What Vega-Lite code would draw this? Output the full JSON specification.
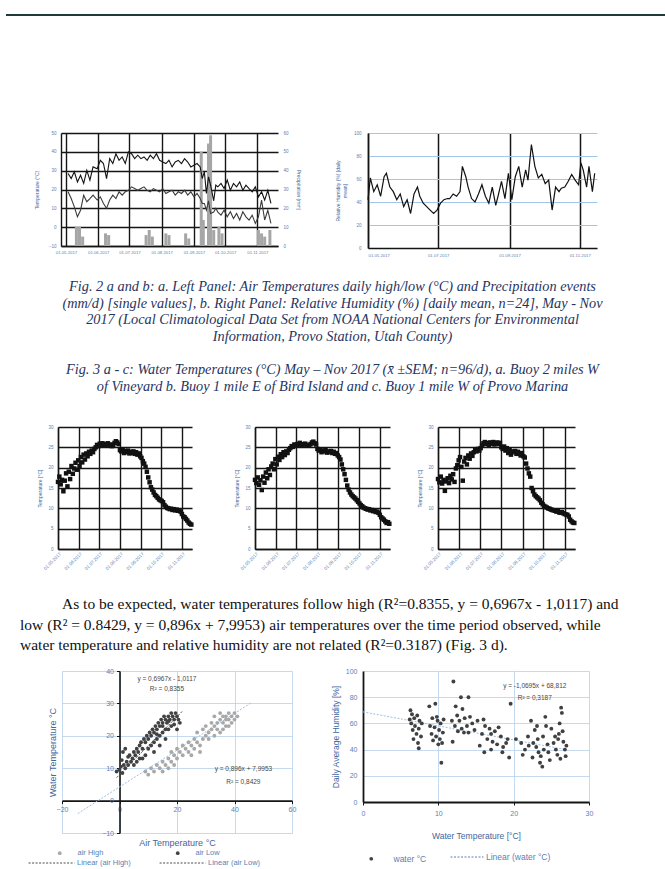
{
"$schema": "https://vega.github.io/schema/vega-lite/v6.json",
"padding": 0,
"background": "#ffffff",
"spacing": 0,
"resolve": {"scale": {"color": "independent", "stroke": "independent", "strokeDash": "independent"}, "legend": {"color": "independent", "stroke": "independent", "strokeDash": "independent"}},
"config": {
  "view": {"stroke": null},
  "font": "Liberation Sans",
  "axis": {"labelFont": "Liberation Sans", "titleFont": "Liberation Sans", "titleFontWeight": "normal", "labelOverlap": false},
  "legend": {"labelFont": "Liberation Sans"}
},
"datasets": {
  "air": [
    {"d":"2017/05/03","high":28.5,"low":18.8},{"d":"2017/05/06","high":25.8,"low":15.2},{"d":"2017/05/09","high":29.4,"low":10.8},
    {"d":"2017/05/12","high":24.0,"low":5.5},{"d":"2017/05/15","high":27.6,"low":9.0},{"d":"2017/05/18","high":23.2,"low":17.0},
    {"d":"2017/05/21","high":30.2,"low":13.5},{"d":"2017/05/24","high":25.0,"low":15.2},{"d":"2017/05/27","high":32.0,"low":17.0},
    {"d":"2017/05/31","high":31.0,"low":14.4},{"d":"2017/06/03","high":35.5,"low":16.1},{"d":"2017/06/06","high":33.8,"low":12.6},
    {"d":"2017/06/09","high":25.8,"low":10.0},{"d":"2017/06/12","high":36.4,"low":14.4},{"d":"2017/06/15","high":33.8,"low":17.0},
    {"d":"2017/06/18","high":39.0,"low":15.2},{"d":"2017/06/21","high":35.5,"low":18.8},{"d":"2017/06/24","high":37.3,"low":17.0},
    {"d":"2017/06/27","high":33.8,"low":18.8},{"d":"2017/06/30","high":40.0,"low":19.6},{"d":"2017/07/03","high":39.0,"low":21.4},
    {"d":"2017/07/06","high":36.4,"low":20.5},{"d":"2017/07/09","high":38.2,"low":19.6},{"d":"2017/07/12","high":36.4,"low":20.5},
    {"d":"2017/07/15","high":37.3,"low":21.4},{"d":"2017/07/18","high":35.5,"low":19.6},{"d":"2017/07/21","high":38.2,"low":18.8},
    {"d":"2017/07/24","high":36.4,"low":20.5},{"d":"2017/07/27","high":39.0,"low":19.6},{"d":"2017/07/30","high":35.5,"low":18.8},
    {"d":"2017/08/02","high":34.6,"low":20.5},{"d":"2017/08/05","high":33.8,"low":17.9},{"d":"2017/08/08","high":35.5,"low":18.8},
    {"d":"2017/08/11","high":32.0,"low":19.6},{"d":"2017/08/14","high":34.6,"low":17.0},{"d":"2017/08/17","high":35.5,"low":18.8},
    {"d":"2017/08/20","high":33.8,"low":17.9},{"d":"2017/08/23","high":36.4,"low":19.6},{"d":"2017/08/26","high":34.6,"low":17.0},
    {"d":"2017/08/29","high":32.0,"low":18.8},{"d":"2017/09/01","high":32.9,"low":16.1},{"d":"2017/09/04","high":33.8,"low":17.9},
    {"d":"2017/09/07","high":32.0,"low":15.2},{"d":"2017/09/09","high":25.8,"low":12.6},{"d":"2017/09/11","high":29.4,"low":12.6},
    {"d":"2017/09/13","high":17.9,"low":9.0},{"d":"2017/09/15","high":26.7,"low":14.0},{"d":"2017/09/17","high":22.3,"low":7.3},
    {"d":"2017/09/20","high":14.0,"low":8.0},{"d":"2017/09/22","high":22.3,"low":10.0},{"d":"2017/09/24","high":21.4,"low":8.0},
    {"d":"2017/09/27","high":23.2,"low":6.4},{"d":"2017/09/30","high":20.5,"low":9.0},{"d":"2017/10/03","high":25.0,"low":5.5},
    {"d":"2017/10/06","high":19.6,"low":8.2},{"d":"2017/10/09","high":23.2,"low":4.6},{"d":"2017/10/12","high":21.4,"low":7.3},
    {"d":"2017/10/15","high":24.0,"low":3.8},{"d":"2017/10/18","high":19.6,"low":8.2},{"d":"2017/10/21","high":22.3,"low":5.5},
    {"d":"2017/10/24","high":20.5,"low":3.8},{"d":"2017/10/27","high":18.8,"low":6.4},{"d":"2017/10/30","high":21.4,"low":2.0},
    {"d":"2017/11/02","high":16.1,"low":5.5},{"d":"2017/11/05","high":18.8,"low":14.4},{"d":"2017/11/08","high":14.4,"low":3.8},
    {"d":"2017/11/11","high":19.6,"low":9.0},{"d":"2017/11/14","high":12.6,"low":2.0}
  ],
  "precip": [
    {"d":"2017/05/11","mm":10.2},{"d":"2017/05/14","mm":10.2},{"d":"2017/05/17","mm":5.0},{"d":"2017/06/08","mm":6.7},
    {"d":"2017/06/11","mm":5.8},{"d":"2017/07/17","mm":5.8},{"d":"2017/07/20","mm":8.5},{"d":"2017/07/23","mm":5.0},
    {"d":"2017/08/05","mm":6.7},{"d":"2017/08/08","mm":5.8},{"d":"2017/08/24","mm":6.7},{"d":"2017/08/27","mm":4.0},
    {"d":"2017/09/08","mm":50.0},{"d":"2017/09/10","mm":13.8},{"d":"2017/09/15","mm":54.4},{"d":"2017/09/17","mm":58.8},
    {"d":"2017/09/20","mm":8.5},{"d":"2017/09/25","mm":10.2},{"d":"2017/09/28","mm":6.7},{"d":"2017/11/02","mm":8.5},
    {"d":"2017/11/05","mm":6.7},{"d":"2017/11/08","mm":5.0},{"d":"2017/11/13","mm":8.5}
  ],
  "rh": [
    {"d":"2017/05/01","rh":42},{"d":"2017/05/03","rh":61},{"d":"2017/05/06","rh":49},{"d":"2017/05/09","rh":55},
    {"d":"2017/05/12","rh":45},{"d":"2017/05/15","rh":62},{"d":"2017/05/17","rh":65},{"d":"2017/05/20","rh":53},
    {"d":"2017/05/23","rh":49},{"d":"2017/05/26","rh":42},{"d":"2017/05/29","rh":47},{"d":"2017/06/01","rh":36},
    {"d":"2017/06/04","rh":42},{"d":"2017/06/07","rh":30},{"d":"2017/06/10","rh":47},{"d":"2017/06/13","rh":53},
    {"d":"2017/06/15","rh":45},{"d":"2017/06/18","rh":39},{"d":"2017/06/21","rh":36},{"d":"2017/06/24","rh":33},
    {"d":"2017/06/27","rh":30},{"d":"2017/06/30","rh":33},{"d":"2017/07/03","rh":39},{"d":"2017/07/06","rh":42},
    {"d":"2017/07/09","rh":43},{"d":"2017/07/11","rh":43},{"d":"2017/07/14","rh":47},{"d":"2017/07/17","rh":45},
    {"d":"2017/07/20","rh":49},{"d":"2017/07/22","rh":71},{"d":"2017/07/25","rh":62},{"d":"2017/07/27","rh":53},
    {"d":"2017/07/30","rh":43},{"d":"2017/08/02","rh":40},{"d":"2017/08/05","rh":47},{"d":"2017/08/08","rh":55},
    {"d":"2017/08/11","rh":45},{"d":"2017/08/14","rh":39},{"d":"2017/08/17","rh":53},{"d":"2017/08/20","rh":37},
    {"d":"2017/08/22","rh":45},{"d":"2017/08/25","rh":58},{"d":"2017/08/28","rh":43},{"d":"2017/08/31","rh":65},
    {"d":"2017/09/03","rh":42},{"d":"2017/09/06","rh":62},{"d":"2017/09/09","rh":71},{"d":"2017/09/12","rh":53},
    {"d":"2017/09/15","rh":68},{"d":"2017/09/17","rh":59},{"d":"2017/09/20","rh":90},{"d":"2017/09/23","rh":71},
    {"d":"2017/09/26","rh":61},{"d":"2017/09/29","rh":64},{"d":"2017/10/02","rh":56},{"d":"2017/10/05","rh":59},
    {"d":"2017/10/08","rh":33},{"d":"2017/10/11","rh":53},{"d":"2017/10/14","rh":49},{"d":"2017/10/16","rh":52},
    {"d":"2017/10/19","rh":53},{"d":"2017/10/22","rh":58},{"d":"2017/10/25","rh":64},{"d":"2017/10/28","rh":59},
    {"d":"2017/10/31","rh":55},{"d":"2017/11/02","rh":74},{"d":"2017/11/04","rh":68},{"d":"2017/11/07","rh":53},
    {"d":"2017/11/09","rh":71},{"d":"2017/11/12","rh":49},{"d":"2017/11/14","rh":65}
  ],
  "water": [
    {"d":"2017/05/01","a":16.5,"b":17.0,"c":17.2},{"d":"2017/05/03","a":17.8,"b":16.2,"c":16.4},{"d":"2017/05/05","a":15.9,"b":17.6,"c":17.8},
    {"d":"2017/05/07","a":17.0,"b":15.8,"c":16.1},{"d":"2017/05/09","a":14.2,"b":16.9,"c":17.0},{"d":"2017/05/11","a":16.8,"b":14.5,"c":14.3},
    {"d":"2017/05/13","a":18.6,"b":17.8,"c":16.6},{"d":"2017/05/15","a":15.4,"b":16.3,"c":17.4},{"d":"2017/05/17","a":19.0,"b":18.8,"c":16.2},
    {"d":"2017/05/19","a":17.2,"b":17.4,"c":18.0},{"d":"2017/05/21","a":20.4,"b":19.6,"c":17.1},{"d":"2017/05/23","a":18.5,"b":18.2,"c":18.4},
    {"d":"2017/05/25","a":19.8,"b":20.3,"c":16.5},{"d":"2017/05/27","a":21.2,"b":21.0,"c":19.8},{"d":"2017/05/29","a":19.5,"b":19.6,"c":20.6},
    {"d":"2017/05/31","a":21.8,"b":22.1,"c":21.8},{"d":"2017/06/02","a":20.4,"b":20.8,"c":22.6},{"d":"2017/06/04","a":22.6,"b":22.7,"c":20.2},
    {"d":"2017/06/06","a":21.3,"b":21.9,"c":16.8},{"d":"2017/06/08","a":23.2,"b":23.3,"c":21.5},{"d":"2017/06/10","a":22.0,"b":22.6,"c":22.4},
    {"d":"2017/06/12","a":23.5,"b":23.8,"c":20.8},{"d":"2017/06/14","a":22.8,"b":23.1,"c":23.0},{"d":"2017/06/16","a":23.9,"b":24.0,"c":22.2},
    {"d":"2017/06/18","a":23.4,"b":23.6,"c":23.5},{"d":"2017/06/20","a":24.2,"b":24.4,"c":22.9},{"d":"2017/06/22","a":23.8,"b":24.8,"c":23.8},
    {"d":"2017/06/24","a":24.6,"b":25.3,"c":24.3},{"d":"2017/06/26","a":25.0,"b":25.1,"c":24.0},{"d":"2017/06/28","a":25.6,"b":25.7,"c":24.6},
    {"d":"2017/06/30","a":25.3,"b":25.5,"c":24.2},{"d":"2017/07/02","a":25.9,"b":25.8,"c":24.8},{"d":"2017/07/04","a":25.6,"b":25.6,"c":25.5},
    {"d":"2017/07/06","a":26.0,"b":26.1,"c":26.0},{"d":"2017/07/08","a":25.7,"b":25.6,"c":26.3},{"d":"2017/07/10","a":25.5,"b":25.4,"c":25.8},
    {"d":"2017/07/12","a":25.8,"b":25.8,"c":26.1},{"d":"2017/07/14","a":26.0,"b":25.9,"c":25.6},{"d":"2017/07/16","a":25.4,"b":25.5,"c":26.2},
    {"d":"2017/07/18","a":25.7,"b":25.6,"c":25.9},{"d":"2017/07/20","a":25.3,"b":25.4,"c":26.3},{"d":"2017/07/22","a":25.6,"b":25.8,"c":25.7},
    {"d":"2017/07/24","a":26.1,"b":26.2,"c":26.0},{"d":"2017/07/26","a":26.5,"b":26.4,"c":26.2},{"d":"2017/07/28","a":26.2,"b":26.0,"c":25.8},
    {"d":"2017/07/30","a":25.8,"b":25.7,"c":26.1},{"d":"2017/08/01","a":24.3,"b":24.6,"c":25.0},{"d":"2017/08/03","a":24.0,"b":24.2,"c":24.6},
    {"d":"2017/08/05","a":24.4,"b":24.5,"c":25.2},{"d":"2017/08/07","a":23.6,"b":23.8,"c":24.2},{"d":"2017/08/09","a":24.1,"b":24.2,"c":24.8},
    {"d":"2017/08/11","a":23.8,"b":24.0,"c":23.6},{"d":"2017/08/13","a":24.2,"b":24.3,"c":24.4},{"d":"2017/08/15","a":23.5,"b":23.7,"c":23.2},
    {"d":"2017/08/17","a":23.9,"b":24.0,"c":24.0},{"d":"2017/08/19","a":23.6,"b":23.8,"c":23.8},{"d":"2017/08/21","a":24.0,"b":24.1,"c":24.1},
    {"d":"2017/08/23","a":23.4,"b":23.6,"c":23.4},{"d":"2017/08/25","a":23.8,"b":23.9,"c":23.9},{"d":"2017/08/27","a":23.2,"b":23.4,"c":23.5},
    {"d":"2017/08/29","a":23.5,"b":23.6,"c":23.0},{"d":"2017/08/31","a":22.8,"b":23.0,"c":23.6},{"d":"2017/09/02","a":22.4,"b":22.6,"c":22.8},
    {"d":"2017/09/04","a":21.6,"b":22.0,"c":22.5},{"d":"2017/09/06","a":21.0,"b":20.8,"c":21.0},{"d":"2017/09/08","a":20.2,"b":19.6,"c":19.8},
    {"d":"2017/09/10","a":19.0,"b":18.4,"c":18.6},{"d":"2017/09/12","a":17.6,"b":17.0,"c":17.8},{"d":"2017/09/14","a":16.4,"b":15.6,"c":15.0},
    {"d":"2017/09/16","a":15.2,"b":14.6,"c":14.2},{"d":"2017/09/18","a":14.6,"b":13.9,"c":13.4},{"d":"2017/09/20","a":13.9,"b":13.4,"c":13.0},
    {"d":"2017/09/22","a":13.3,"b":13.0,"c":12.7},{"d":"2017/09/24","a":13.0,"b":12.7,"c":12.4},{"d":"2017/09/26","a":12.6,"b":12.4,"c":12.0},
    {"d":"2017/09/28","a":12.2,"b":12.0,"c":11.4},{"d":"2017/09/30","a":12.0,"b":11.6,"c":11.0},{"d":"2017/10/02","a":11.8,"b":11.2,"c":10.6},
    {"d":"2017/10/04","a":11.5,"b":10.8,"c":10.4},{"d":"2017/10/06","a":10.8,"b":10.5,"c":10.2},{"d":"2017/10/08","a":10.4,"b":10.2,"c":10.0},
    {"d":"2017/10/10","a":10.1,"b":10.0,"c":9.9},{"d":"2017/10/12","a":10.0,"b":9.9,"c":9.7},{"d":"2017/10/14","a":9.8,"b":9.7,"c":9.6},
    {"d":"2017/10/16","a":9.9,"b":9.8,"c":9.5},{"d":"2017/10/18","a":9.6,"b":9.5,"c":9.4},{"d":"2017/10/20","a":9.8,"b":9.6,"c":9.2},
    {"d":"2017/10/22","a":9.5,"b":9.3,"c":9.3},{"d":"2017/10/24","a":9.7,"b":9.4,"c":9.0},{"d":"2017/10/26","a":9.4,"b":9.1,"c":8.9},
    {"d":"2017/10/28","a":9.5,"b":9.2,"c":9.1},{"d":"2017/10/30","a":9.2,"b":8.9,"c":8.8},{"d":"2017/11/01","a":8.6,"b":8.4,"c":8.6},
    {"d":"2017/11/03","a":8.0,"b":7.8,"c":8.5},{"d":"2017/11/05","a":7.8,"b":7.5,"c":8.4},{"d":"2017/11/07","a":7.4,"b":7.2,"c":8.0},
    {"d":"2017/11/09","a":7.0,"b":6.8,"c":7.2},{"d":"2017/11/11","a":6.5,"b":6.4,"c":6.8},{"d":"2017/11/13","a":6.2,"b":6.6,"c":6.5},
    {"d":"2017/11/15","a":6.0,"b":6.2,"c":6.4}
  ],
  "scat1": [
    {"air":-1,"water":9,"s":"air Low"},{"air":0,"water":9.5,"s":"air Low"},{"air":0.5,"water":10.5,"s":"air Low"},{"air":1,"water":8.5,"s":"air Low"},
    {"air":1.5,"water":11,"s":"air Low"},{"air":2,"water":10,"s":"air Low"},{"air":2.5,"water":12,"s":"air Low"},{"air":3,"water":11,"s":"air Low"},
    {"air":0.8,"water":12.5,"s":"air Low"},{"air":1.2,"water":15,"s":"air Low"},{"air":2,"water":16,"s":"air Low"},{"air":3,"water":13.5,"s":"air Low"},
    {"air":3.5,"water":14,"s":"air Low"},{"air":4,"water":12,"s":"air Low"},{"air":4.5,"water":13,"s":"air Low"},{"air":5,"water":15,"s":"air Low"},
    {"air":5,"water":11,"s":"air Low"},{"air":5.5,"water":14,"s":"air Low"},{"air":6,"water":16,"s":"air Low"},{"air":6,"water":12,"s":"air Low"},
    {"air":6.5,"water":15,"s":"air Low"},{"air":7,"water":17,"s":"air Low"},{"air":7,"water":13,"s":"air Low"},{"air":7.5,"water":18,"s":"air Low"},
    {"air":8,"water":16,"s":"air Low"},{"air":8,"water":13,"s":"air Low"},{"air":8.5,"water":19,"s":"air Low"},{"air":9,"water":18,"s":"air Low"},
    {"air":9,"water":14,"s":"air Low"},{"air":9.5,"water":20,"s":"air Low"},{"air":10,"water":19,"s":"air Low"},{"air":10,"water":16,"s":"air Low"},
    {"air":10.5,"water":21,"s":"air Low"},{"air":11,"water":20,"s":"air Low"},{"air":11,"water":17,"s":"air Low"},{"air":11.5,"water":22,"s":"air Low"},
    {"air":12,"water":21,"s":"air Low"},{"air":12,"water":18,"s":"air Low"},{"air":12,"water":15,"s":"air Low"},{"air":12.5,"water":23,"s":"air Low"},
    {"air":13,"water":22,"s":"air Low"},{"air":13,"water":19,"s":"air Low"},{"air":13.5,"water":24,"s":"air Low"},{"air":14,"water":23,"s":"air Low"},
    {"air":14,"water":20,"s":"air Low"},{"air":14,"water":17,"s":"air Low"},{"air":14.5,"water":25,"s":"air Low"},{"air":15,"water":24,"s":"air Low"},
    {"air":15,"water":21,"s":"air Low"},{"air":15.5,"water":26,"s":"air Low"},{"air":16,"water":25,"s":"air Low"},{"air":16,"water":22,"s":"air Low"},
    {"air":16,"water":19,"s":"air Low"},{"air":16.5,"water":24,"s":"air Low"},{"air":17,"water":26,"s":"air Low"},{"air":17,"water":22,"s":"air Low"},
    {"air":17.5,"water":25,"s":"air Low"},{"air":18,"water":27,"s":"air Low"},{"air":18,"water":23,"s":"air Low"},{"air":18.5,"water":26,"s":"air Low"},
    {"air":19,"water":25,"s":"air Low"},{"air":19,"water":23.5,"s":"air Low"},{"air":19.5,"water":27,"s":"air Low"},{"air":20,"water":26,"s":"air Low"},
    {"air":20,"water":22,"s":"air Low"},{"air":20.5,"water":25,"s":"air Low"},{"air":21,"water":24,"s":"air Low"},{"air":13,"water":20.5,"s":"air Low"},
    {"air":15,"water":23,"s":"air Low"},{"air":17,"water":24.5,"s":"air Low"},
    {"air":9,"water":9,"s":"air High"},{"air":10,"water":8,"s":"air High"},{"air":11,"water":10,"s":"air High"},{"air":12,"water":9,"s":"air High"},
    {"air":13,"water":11,"s":"air High"},{"air":14,"water":10,"s":"air High"},{"air":15,"water":12,"s":"air High"},{"air":15,"water":9,"s":"air High"},
    {"air":16,"water":11,"s":"air High"},{"air":17,"water":13,"s":"air High"},{"air":17,"water":10,"s":"air High"},{"air":18,"water":12,"s":"air High"},
    {"air":18,"water":15,"s":"air High"},{"air":19,"water":14,"s":"air High"},{"air":19,"water":11,"s":"air High"},{"air":20,"water":13,"s":"air High"},
    {"air":20,"water":16,"s":"air High"},{"air":21,"water":15,"s":"air High"},{"air":22,"water":14,"s":"air High"},{"air":22,"water":17,"s":"air High"},
    {"air":23,"water":16,"s":"air High"},{"air":24,"water":15,"s":"air High"},{"air":24,"water":18,"s":"air High"},{"air":25,"water":17,"s":"air High"},
    {"air":25,"water":14,"s":"air High"},{"air":26,"water":16,"s":"air High"},{"air":26,"water":19,"s":"air High"},{"air":27,"water":18,"s":"air High"},
    {"air":27,"water":21,"s":"air High"},{"air":28,"water":17,"s":"air High"},{"air":28,"water":15,"s":"air High"},{"air":29,"water":19,"s":"air High"},
    {"air":29,"water":22,"s":"air High"},{"air":30,"water":20,"s":"air High"},{"air":30,"water":23,"s":"air High"},{"air":31,"water":21,"s":"air High"},
    {"air":31,"water":19,"s":"air High"},{"air":32,"water":22,"s":"air High"},{"air":32,"water":24,"s":"air High"},{"air":33,"water":23,"s":"air High"},
    {"air":33,"water":20,"s":"air High"},{"air":33,"water":26,"s":"air High"},{"air":34,"water":24,"s":"air High"},{"air":34,"water":22,"s":"air High"},
    {"air":35,"water":25,"s":"air High"},{"air":35,"water":21,"s":"air High"},{"air":35,"water":27,"s":"air High"},{"air":36,"water":24,"s":"air High"},
    {"air":36,"water":26,"s":"air High"},{"air":36,"water":22,"s":"air High"},{"air":37,"water":26,"s":"air High"},{"air":37,"water":23,"s":"air High"},
    {"air":37,"water":25,"s":"air High"},{"air":38,"water":25,"s":"air High"},{"air":38,"water":27,"s":"air High"},{"air":38,"water":23,"s":"air High"},
    {"air":39,"water":26,"s":"air High"},{"air":39,"water":24,"s":"air High"},{"air":40,"water":25,"s":"air High"},{"air":40,"water":27,"s":"air High"},
    {"air":41,"water":26,"s":"air High"}
  ],
  "trend1": [
    {"air":-14.5,"water":-4,"t":"Linear (air High)"},{"air":46,"water":30.3,"t":"Linear (air High)"},
    {"air":-1,"water":7.1,"t":"Linear (air Low)"},{"air":22,"water":27.7,"t":"Linear (air Low)"}
  ],
  "scat2": [
    {"wt":6.3,"rh":70},{"wt":6.5,"rh":67},{"wt":6.8,"rh":64},{"wt":7.2,"rh":66},{"wt":7.5,"rh":62},{"wt":6.4,"rh":60},{"wt":6.9,"rh":58},
    {"wt":7.4,"rh":56},{"wt":6.6,"rh":55},{"wt":7.1,"rh":52},{"wt":7.7,"rh":50},{"wt":6.7,"rh":48},{"wt":7.3,"rh":45},{"wt":7.4,"rh":41},
    {"wt":6.2,"rh":63},{"wt":7.8,"rh":60},
    {"wt":8.8,"rh":73},{"wt":9.6,"rh":75},{"wt":9.2,"rh":64},{"wt":9.9,"rh":62},{"wt":10.3,"rh":60},{"wt":8.9,"rh":58},{"wt":9.5,"rh":57},
    {"wt":10.1,"rh":55},{"wt":10.6,"rh":53},{"wt":9.1,"rh":52},{"wt":9.7,"rh":50},{"wt":10.2,"rh":48},{"wt":10.5,"rh":45},{"wt":9.3,"rh":47},
    {"wt":10.0,"rh":44},{"wt":10.4,"rh":30},{"wt":9.8,"rh":65},{"wt":10.7,"rh":63},
    {"wt":12.0,"rh":92},{"wt":12.3,"rh":73},{"wt":13.0,"rh":80},{"wt":14.0,"rh":80},{"wt":13.2,"rh":71},{"wt":12.5,"rh":66},{"wt":11.8,"rh":62},
    {"wt":12.8,"rh":62},{"wt":13.5,"rh":64},{"wt":14.2,"rh":65},{"wt":12.2,"rh":58},{"wt":13.1,"rh":56},{"wt":13.8,"rh":58},{"wt":14.5,"rh":60},
    {"wt":12.6,"rh":54},{"wt":13.4,"rh":53},{"wt":14.0,"rh":53},{"wt":11.9,"rh":46},{"wt":15.2,"rh":62},{"wt":14.8,"rh":55},
    {"wt":15.5,"rh":43},{"wt":16.0,"rh":63},{"wt":16.2,"rh":58},{"wt":16.8,"rh":56},{"wt":17.0,"rh":52},{"wt":17.5,"rh":54},{"wt":18.0,"rh":57},
    {"wt":18.3,"rh":50},{"wt":16.5,"rh":48},{"wt":17.2,"rh":46},{"wt":17.8,"rh":44},{"wt":18.6,"rh":42},{"wt":19.0,"rh":45},{"wt":16.1,"rh":38},
    {"wt":17.0,"rh":40},{"wt":18.5,"rh":38},{"wt":19.4,"rh":34},{"wt":19.6,"rh":75},{"wt":15.8,"rh":52},{"wt":19.2,"rh":48},
    {"wt":20.3,"rh":48},{"wt":21.0,"rh":45},{"wt":21.5,"rh":40},{"wt":21.9,"rh":50},{"wt":22.3,"rh":62},{"wt":22.6,"rh":45},{"wt":23.0,"rh":42},
    {"wt":23.3,"rh":38},{"wt":23.6,"rh":35},{"wt":23.9,"rh":50},{"wt":24.2,"rh":65},{"wt":24.5,"rh":44},{"wt":22.8,"rh":55},{"wt":23.2,"rh":48},
    {"wt":24.0,"rh":40},{"wt":23.5,"rh":30},{"wt":23.8,"rh":27},{"wt":22.5,"rh":34},{"wt":24.6,"rh":38},{"wt":24.8,"rh":32},{"wt":25.0,"rh":56},
    {"wt":25.3,"rh":45},{"wt":25.6,"rh":40},{"wt":25.8,"rh":36},{"wt":26.0,"rh":52},{"wt":26.1,"rh":60},{"wt":26.3,"rh":72},{"wt":26.4,"rh":68},
    {"wt":26.6,"rh":46},{"wt":26.8,"rh":40},{"wt":27.0,"rh":43},{"wt":26.2,"rh":33},{"wt":25.5,"rh":50},{"wt":26.9,"rh":35},{"wt":24.3,"rh":58},
    {"wt":21.2,"rh":36},{"wt":22.0,"rh":43},{"wt":25.9,"rh":48},{"wt":26.5,"rh":54},{"wt":23.1,"rh":58}
  ],
  "trend2": [{"wt":0,"rh":68.8},{"wt":27,"rh":39.9}],
  "cap1": [
    {"i":0,"t":"Fig. 2 a and b: a. Left Panel: Air Temperatures daily high/low (°C) and Precipitation events"},
    {"i":1,"t":"(mm/d) [single values], b. Right Panel: Relative Humidity (%) [daily mean, n=24], May - Nov"},
    {"i":2,"t":"2017 (Local Climatological Data Set from NOAA National Centers for Environmental"},
    {"i":3,"t":"Information, Provo Station, Utah County)"}
  ],
  "cap2": [
    {"i":0,"t":"Fig. 3 a - c: Water Temperatures (°C) May – Nov 2017 (x̄ ±SEM; n=96/d), a. Buoy 2 miles W"},
    {"i":1,"t":"of Vineyard b. Buoy 1 mile E of Bird Island and c. Buoy 1 mile W of Provo Marina"}
  ],
  "para": [
    {"i":0,"t":"As to be expected, water temperatures follow high (R²=0.8355, y = 0,6967x - 1,0117) and"},
    {"i":1,"t":"low (R² = 0.8429, y = 0,896x + 7,9953) air temperatures over the time period observed, while"},
    {"i":2,"t":"water temperature and relative humidity are not related (R²=0.3187) (Fig. 3 d)."}
  ]
},
"vconcat": [
  {"width": 1, "height": 14, "data": {"values": []}, "mark": "point"},
  {"hconcat": [
    {"width": 6, "height": 2, "data": {"values": []}, "mark": "point"},
    {"width": 659, "height": 2, "data": {"values": []}, "mark": "point", "view": {"fill": "#1f3a3b"}}
  ], "spacing": 0, "bounds": "flush"},
  {"width": 1, "height": 113.5, "data": {"values": []}, "mark": "point"},
  {"hconcat": [
    {"width": 61, "height": 145.75, "data": {"values": []}, "mark": "point"},
    {
      "width": 217, "height": 113,
      "layer": [
        {"data": {"name": "precip"},
         "mark": {"type": "bar", "color": "#a6a6a6", "width": 3},
         "encoding": {
           "x": {"field": "d", "type": "temporal",
                 "scale": {"domain": [{"year":2017,"month":5,"date":1},{"year":2017,"month":11,"date":16}]},
                 "axis": {"title": null, "format": "%d.%m.%Y", "tickCount": {"interval": "month", "step": 1}, "labelAngle": 0,
                          "labelFontSize": 4.3, "labelColor": "#5b7fb6", "labelPadding": 4, "grid": true, "gridColor": "#151515",
                          "gridWidth": 1.4, "domainColor": "#151515", "domainWidth": 1.4, "ticks": false, "labelFlush": false, "labelOverlap": false}},
           "y": {"field": "mm", "type": "quantitative", "scale": {"domain": [0, 60], "nice": false},
                 "axis": {"orient": "right", "values": [0,10,20,30,40,50,60], "tickCount": 7, "grid": false, "domain": false, "ticks": false,
                          "labelFontSize": 4.5, "labelColor": "#5b7fb6", "labelPadding": 5, "title": "Precipitation (mm)", "labelOverlap": false,
                          "titleFontSize": 5, "titleColor": "#41669e", "titlePadding": 7}}
         }},
        {"data": {"name": "air"},
         "transform": [{"fold": ["high", "low"], "as": ["s", "t"]}],
         "mark": {"type": "line", "strokeWidth": 1.1},
         "encoding": {
           "x": {"field": "d", "type": "temporal"},
           "y": {"field": "t", "type": "quantitative", "scale": {"domain": [-10, 50], "nice": false},
                 "axis": {"orient": "left", "values": [-10,0,10,20,30,40,50], "tickCount": 7, "grid": true, "gridColor": "#151515", "gridWidth": 1.4,
                          "domainColor": "#151515", "domainWidth": 1.4, "ticks": false, "labelFontSize": 4.5, "labelColor": "#5b7fb6", "labelOverlap": false,
                          "labelPadding": 5, "title": "Temperature (°C)", "titleFontSize": 5, "titleColor": "#41669e", "titlePadding": 9}},
           "color": {"field": "s", "type": "nominal", "scale": {"domain": ["high", "low"], "range": ["#141414", "#3c3c3c"]}, "legend": null}
         }}
      ],
      "resolve": {"scale": {"y": "independent"}}
    },
    {"width": 90, "height": 10, "data": {"values": []}, "mark": "point"},
    {
      "width": 229, "height": 115,
      "data": {"name": "rh"},
      "mark": {"type": "line", "color": "#111111", "strokeWidth": 1.2},
      "encoding": {
        "x": {"field": "d", "type": "temporal",
              "scale": {"domain": [{"year":2017,"month":5,"date":1},{"year":2017,"month":11,"date":16}]},
              "axis": {"title": null, "format": "%d.%m.%Y", "tickCount": {"interval": "month", "step": 2}, "labelAngle": 0, "labelOverlap": false,
                       "labelFontSize": 4.3, "labelColor": "#5b7fb6", "labelPadding": 5, "grid": true, "gridColor": "#151515",
                       "gridWidth": 1.5, "domainColor": "#151515", "domainWidth": 1.5, "ticks": false}},
        "y": {"field": "rh", "type": "quantitative", "scale": {"domain": [0, 100], "nice": false},
              "axis": {"values": [0,20,40,60,80,100], "tickCount": 6, "grid": true, "gridColor": "#a3c6e8", "gridWidth": 1, "domainColor": "#151515",
                       "domainWidth": 1.5, "ticks": false, "labelFontSize": 4.5, "labelColor": "#5b7fb6", "labelPadding": 7, "labelOverlap": false,
                       "title": ["Relative Humidity (%) [daily", "mean]"], "titleFontSize": 5, "titleColor": "#41669e", "titlePadding": 6}}
      }
    }
  ], "spacing": 0, "bounds": "flush",
     "resolve": {"scale": {"color": "independent", "stroke": "independent", "strokeDash": "independent"}, "legend": {"color": "independent", "stroke": "independent", "strokeDash": "independent"}}},
  {
    "width": 665, "height": 66,
    "data": {"name": "cap1"},
    "mark": {"type": "text", "font": "Liberation Serif", "fontStyle": "italic", "fontSize": 14.3, "color": "#1f3561", "align": "center", "baseline": "middle"},
    "encoding": {
      "x": {"datum": 0.5, "type": "quantitative", "scale": {"domain": [0, 1], "nice": false}, "axis": null},
      "y": {"field": "i", "type": "quantitative", "scale": {"domain": [-0.5, 3.5], "reverse": true, "nice": false, "zero": false}, "axis": null},
      "text": {"field": "t"}
    }
  },
  {"width": 1, "height": 17, "data": {"values": []}, "mark": "point"},
  {
    "width": 665, "height": 33,
    "data": {"name": "cap2"},
    "mark": {"type": "text", "font": "Liberation Serif", "fontStyle": "italic", "fontSize": 14.3, "color": "#1f3561", "align": "center", "baseline": "middle"},
    "encoding": {
      "x": {"datum": 0.5, "type": "quantitative", "scale": {"domain": [0, 1], "nice": false}, "axis": null},
      "y": {"field": "i", "type": "quantitative", "scale": {"domain": [-0.5, 1.5], "reverse": true, "nice": false, "zero": false}, "axis": null},
      "text": {"field": "t"}
    }
  },
  {"width": 1, "height": 28.75, "data": {"values": []}, "mark": "point"},
  {"hconcat": [
    {"width": 58, "height": 166.75, "data": {"values": []}, "mark": "point"},
    {
      "width": 134, "height": 122, "data": {"name": "water"},
      "mark": {"type": "square", "color": "#111111", "size": 20, "filled": true, "opacity": 1},
      "encoding": {
        "x": {"field": "d", "type": "temporal", "scale": {"domain": [{"year":2017,"month":5,"date":1},{"year":2017,"month":11,"date":16}]},
              "axis": {"title": null, "format": "%d.%m.%Y", "tickCount": {"interval": "month", "step": 1}, "labelAngle": -45, "labelOverlap": false,
                       "labelFontSize": 4.5, "labelColor": "#5b7fb6", "labelPadding": 2, "grid": true, "gridColor": "#151515",
                       "gridWidth": 1.4, "domainColor": "#151515", "domainWidth": 1.4, "ticks": false}},
        "y": {"field": "a", "type": "quantitative", "scale": {"domain": [0, 30], "nice": false},
              "axis": {"values": [0,5,10,15,20,25,30], "tickCount": 7, "grid": true, "gridColor": "#151515", "gridWidth": 1.4, "domainColor": "#151515", "labelOverlap": false,
                       "domainWidth": 1.4, "ticks": false, "labelFontSize": 4.5, "labelColor": "#5b7fb6", "labelPadding": 5,
                       "title": "Temperature [°C]", "titleFontSize": 5, "titleColor": "#41669e", "titlePadding": 5}}
      }
    },
    {"width": 63, "height": 10, "data": {"values": []}, "mark": "point"},
    {
      "width": 135, "height": 122, "data": {"name": "water"},
      "mark": {"type": "square", "color": "#111111", "size": 20, "filled": true, "opacity": 1},
      "encoding": {
        "x": {"field": "d", "type": "temporal", "scale": {"domain": [{"year":2017,"month":5,"date":1},{"year":2017,"month":11,"date":16}]},
              "axis": {"title": null, "format": "%d.%m.%Y", "tickCount": {"interval": "month", "step": 1}, "labelAngle": -45, "labelOverlap": false,
                       "labelFontSize": 4.5, "labelColor": "#5b7fb6", "labelPadding": 2, "grid": true, "gridColor": "#151515",
                       "gridWidth": 1.4, "domainColor": "#151515", "domainWidth": 1.4, "ticks": false}},
        "y": {"field": "b", "type": "quantitative", "scale": {"domain": [0, 30], "nice": false},
              "axis": {"values": [0,5,10,15,20,25,30], "tickCount": 7, "grid": true, "gridColor": "#151515", "gridWidth": 1.4, "domainColor": "#151515", "labelOverlap": false,
                       "domainWidth": 1.4, "ticks": false, "labelFontSize": 4.5, "labelColor": "#5b7fb6", "labelPadding": 5,
                       "title": "Temperature [°C]", "titleFontSize": 5, "titleColor": "#41669e", "titlePadding": 5}}
      }
    },
    {"width": 48, "height": 10, "data": {"values": []}, "mark": "point"},
    {
      "width": 137, "height": 122, "data": {"name": "water"},
      "mark": {"type": "square", "color": "#111111", "size": 20, "filled": true, "opacity": 1},
      "encoding": {
        "x": {"field": "d", "type": "temporal", "scale": {"domain": [{"year":2017,"month":5,"date":1},{"year":2017,"month":11,"date":16}]},
              "axis": {"title": null, "format": "%d.%m.%Y", "tickCount": {"interval": "month", "step": 1}, "labelAngle": -45, "labelOverlap": false,
                       "labelFontSize": 4.5, "labelColor": "#5b7fb6", "labelPadding": 2, "grid": true, "gridColor": "#151515",
                       "gridWidth": 1.4, "domainColor": "#151515", "domainWidth": 1.4, "ticks": false}},
        "y": {"field": "c", "type": "quantitative", "scale": {"domain": [0, 30], "nice": false},
              "axis": {"values": [0,5,10,15,20,25,30], "tickCount": 7, "grid": true, "gridColor": "#151515", "gridWidth": 1.4, "domainColor": "#151515", "labelOverlap": false,
                       "domainWidth": 1.4, "ticks": false, "labelFontSize": 4.5, "labelColor": "#5b7fb6", "labelPadding": 5,
                       "title": "Temperature [°C]", "titleFontSize": 5, "titleColor": "#41669e", "titlePadding": 5}}
      }
    }
  ], "spacing": 0, "bounds": "flush"},
  {"hconcat": [
    {"width": 20, "height": 61.5, "data": {"values": []}, "mark": "point"},
    {
      "width": 640, "height": 61.5,
      "data": {"name": "para"},
      "encoding": {
        "x": {"datum": 0, "type": "quantitative", "scale": {"domain": [0, 1], "nice": false}, "axis": null},
        "y": {"field": "i", "type": "quantitative", "scale": {"domain": [-0.5, 2.5], "reverse": true, "nice": false, "zero": false}, "axis": null},
        "text": {"field": "t"}
      },
      "layer": [
        {"transform": [{"filter": "datum.i === 0"}],
         "mark": {"type": "text", "font": "Liberation Serif", "fontSize": 15.5, "color": "#111111", "align": "left", "baseline": "middle", "dx": 42}},
        {"transform": [{"filter": "datum.i > 0"}],
         "mark": {"type": "text", "font": "Liberation Serif", "fontSize": 15.5, "color": "#111111", "align": "left", "baseline": "middle"}}
      ]
    }
  ], "spacing": 0, "bounds": "flush"},
  {"width": 1, "height": 10.25, "data": {"values": []}, "mark": "point"},
  {"hconcat": [
    {"width": 62, "height": 197.5, "data": {"values": []}, "mark": "point"},
    {
      "width": 230, "height": 162,
      "layer": [
        {"data": {"name": "trend1"},
         "transform": [{"filter": "datum.t === 'Linear (air High)'"}],
         "mark": {"type": "line", "strokeWidth": 1, "stroke": "#9fc0e2"},
         "encoding": {
           "x": {"field": "air", "type": "quantitative", "scale": {"domain": [-20, 60], "nice": false},
                 "axis": {"values": [-20,0,20,40,60], "tickCount": 5, "offset": -32.4, "grid": true, "gridColor": "#b6d0ea", "gridWidth": 0.8,
                          "domainColor": "#151515", "domainWidth": 1.6, "tickColor": "#151515", "tickSize": 3, "tickWidth": 1, "labelOverlap": false, "labelFlush": false,
                          "labelFontSize": 7, "labelColor": "#5b7fb6", "labelPadding": 2, "title": "Air Temperature °C",
                          "titleFontSize": 9, "titleColor": "#41669e", "titlePadding": 26}},
           "y": {"field": "water", "type": "quantitative", "scale": {"domain": [-10, 40], "nice": false},
                 "axis": {"values": [-10,0,10,20,30,40], "tickCount": 6, "offset": -57.5, "grid": true, "gridColor": "#b6d0ea", "gridWidth": 0.8,
                          "domainColor": "#151515", "domainWidth": 1.6, "tickColor": "#151515", "tickSize": 3, "tickWidth": 1, "labelOverlap": false, "labelFlush": false,
                          "labelFontSize": 7, "labelColor": "#5b7fb6", "labelPadding": 3, "title": "Water Temperature °C",
                          "titleFontSize": 9, "titleColor": "#41669e", "titlePadding": 44}},
           "strokeDash": {"field": "t", "type": "nominal", "scale": {"domain": ["Linear (air High)", "Linear (air Low)"], "range": [[2, 1.5], [2, 1.5]]},
                          "legend": {"orient": "none", "legendX": -34, "legendY": 168.5, "direction": "horizontal", "columns": 2, "title": null,
                                     "labelFontSize": 7.5, "labelColor": "#5b7fb6", "symbolSize": 2100, "symbolStrokeWidth": 1,
                                     "symbolStrokeColor": "#5b7fb6", "labelOffset": 2, "columnPadding": 26, "symbolType": "stroke"}}
         }},
        {"data": {"name": "trend1"},
         "transform": [{"filter": "datum.t === 'Linear (air Low)'"}],
         "mark": {"type": "line", "strokeWidth": 1, "stroke": "#4a4a4a"},
         "encoding": {
           "x": {"field": "air", "type": "quantitative", "scale": {"domain": [-20, 60], "nice": false}},
           "y": {"field": "water", "type": "quantitative", "scale": {"domain": [-10, 40], "nice": false}},
           "strokeDash": {"field": "t", "type": "nominal", "scale": {"domain": ["Linear (air High)", "Linear (air Low)"], "range": [[2, 1.5], [2, 1.5]]}}
         }},
        {"data": {"name": "scat1"},
         "mark": {"type": "circle", "size": 15, "opacity": 1},
         "encoding": {
           "x": {"field": "air", "type": "quantitative", "scale": {"domain": [-20, 60], "nice": false}},
           "y": {"field": "water", "type": "quantitative", "scale": {"domain": [-10, 40], "nice": false}},
           "color": {"field": "s", "type": "nominal", "scale": {"domain": ["air High", "air Low"], "range": ["#a8a8a8", "#424242"]},
                     "legend": {"orient": "none", "legendX": -6, "legendY": 178, "direction": "horizontal", "columns": 2, "title": null,
                                "labelFontSize": 7.5, "labelColor": "#5b7fb6", "symbolSize": 14, "labelOffset": 14, "columnPadding": 70,
                                "symbolType": "circle"}}
         }},
        {"data": {"values": [{}]},
         "mark": {"type": "text", "fontSize": 6.5, "color": "#474747", "lineHeight": 10, "align": "center", "baseline": "middle"},
         "encoding": {"x": {"datum": 16.5, "type": "quantitative"}, "y": {"datum": 37.4, "type": "quantitative"},
                      "text": {"value": ["y = 0,6967x - 1,0117", "R² = 0,8355"]}}},
        {"data": {"values": [{}]},
         "mark": {"type": "text", "fontSize": 6.5, "color": "#474747", "lineHeight": 13, "align": "center", "baseline": "middle"},
         "encoding": {"x": {"datum": 43.1, "type": "quantitative"}, "y": {"datum": 9.6, "type": "quantitative"},
                      "text": {"value": ["y = 0,896x + 7,9953", "R² = 0,8429"]}}}
      ]
    },
    {"width": 71, "height": 10, "data": {"values": []}, "mark": "point"},
    {
      "width": 226, "height": 131,
      "layer": [
        {"data": {"name": "trend2"},
         "mark": {"type": "line", "strokeWidth": 1, "stroke": "#9fc0e2"},
         "encoding": {
           "x": {"field": "wt", "type": "quantitative", "scale": {"domain": [0, 30], "nice": false},
                 "axis": {"values": [0,10,20,30], "tickCount": 4, "grid": true, "gridColor": "#b6d0ea", "gridWidth": 0.8, "domainColor": "#151515", "labelOverlap": false, "labelFlush": false,
                          "domainWidth": 1.8, "tickColor": "#151515", "tickSize": 3, "tickWidth": 1, "labelFontSize": 7,
                          "labelColor": "#5b7fb6", "labelPadding": 4, "title": "Water Temperature [°C]", "titleFontSize": 8.5,
                          "titleColor": "#41669e", "titlePadding": 15}},
           "y": {"field": "rh", "type": "quantitative", "scale": {"domain": [0, 100], "nice": false},
                 "axis": {"values": [0,20,40,60,80,100], "tickCount": 6, "grid": true, "gridColor": "#b6d0ea", "gridWidth": 0.8, "domainColor": "#151515", "labelOverlap": false, "labelFlush": false,
                          "domainWidth": 1.8, "ticks": false, "labelFontSize": 7, "labelColor": "#5b7fb6", "labelPadding": 6,
                          "title": "Daily Average Humidity [%]", "titleFontSize": 8.5, "titleColor": "#41669e", "titlePadding": 5}},
           "strokeDash": {"datum": "Linear (water °C)", "type": "nominal", "scale": {"range": [[2, 1.5]]},
                          "legend": {"orient": "none", "legendX": 87, "legendY": 169, "title": null, "labelFontSize": 8.5,
                                     "labelColor": "#5b7fb6", "symbolSize": 1089, "symbolStrokeWidth": 1, "symbolStrokeColor": "#5b7fb6",
                                     "labelOffset": 2, "symbolType": "stroke"}}
         }},
        {"data": {"name": "scat2"},
         "mark": {"type": "circle", "size": 15, "opacity": 1},
         "encoding": {
           "x": {"field": "wt", "type": "quantitative", "scale": {"domain": [0, 30], "nice": false}},
           "y": {"field": "rh", "type": "quantitative", "scale": {"domain": [0, 100], "nice": false}},
           "color": {"datum": "water °C", "type": "nominal", "scale": {"range": ["#404040"]},
                     "legend": {"orient": "none", "legendX": 4, "legendY": 183.5, "title": null, "labelFontSize": 8.5,
                                "labelColor": "#5b7fb6", "symbolSize": 14, "labelOffset": 18, "symbolType": "circle"}}
         }},
        {"data": {"values": [{}]},
         "mark": {"type": "text", "fontSize": 6.5, "color": "#474747", "lineHeight": 12, "align": "center", "baseline": "middle"},
         "encoding": {"x": {"datum": 22.8, "type": "quantitative"}, "y": {"datum": 88.2, "type": "quantitative"},
                      "text": {"value": ["y = -1,0695x + 68,812", "R² = 0,3187"]}}}
      ]
    }
  ], "spacing": 0, "bounds": "flush",
     "resolve": {"scale": {"color": "independent", "stroke": "independent", "strokeDash": "independent"}, "legend": {"color": "independent", "stroke": "independent", "strokeDash": "independent"}}}
]
}
